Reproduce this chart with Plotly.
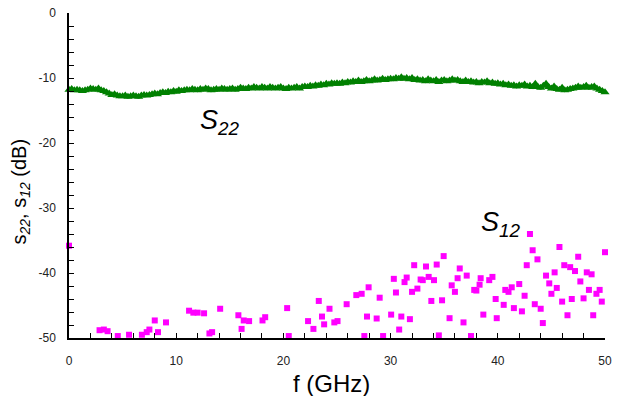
import plotly.graph_objects as go

# S22 (dB) sampled every 0.25 GHz from 0 to 50 GHz
s22_freq_step = 0.25
s22_db = [
    -11.8, -11.7, -11.9, -11.8, -11.9, -12.0, -11.9, -11.8, -11.6, -11.7, -11.8, -11.6, -11.9, -12.0, -12.2, -12.4, -12.6, -12.5, -12.7, -12.8,
    -12.8, -12.7, -12.9, -12.8, -12.7, -12.8, -12.9, -12.7, -12.6, -12.7, -12.6, -12.5, -12.4, -12.5, -12.3, -12.2, -12.3, -12.1, -12.2, -12.0,
    -12.1, -11.9, -12.0, -11.9, -11.8, -11.9, -11.7, -11.8, -11.9, -11.7, -11.8, -11.6, -11.7, -11.9, -11.8, -11.7, -11.8, -11.6, -11.7, -11.8,
    -11.7, -11.6, -11.8, -11.7, -11.5, -11.6, -11.7, -11.5, -11.6, -11.4, -11.5, -11.6, -11.4, -11.5, -11.6, -11.4, -11.5, -11.6, -11.5, -11.4,
    -11.6, -11.7, -11.5, -11.6, -11.5, -11.4, -11.6, -11.4, -11.3, -11.4, -11.2, -11.3, -11.1, -11.2, -11.0, -11.1, -10.9, -11.0, -10.8, -10.9,
    -10.8, -10.9, -10.7, -10.8, -10.6, -10.7, -10.5, -10.6, -10.4, -10.6, -10.5, -10.3, -10.5, -10.4, -10.2, -10.4, -10.3, -10.1, -10.3, -10.2,
    -10.1, -10.2, -10.0, -10.1, -9.9, -10.1, -10.0, -10.2, -10.0, -10.3, -10.2, -10.4, -10.3, -10.5, -10.2, -10.4, -10.5, -10.3, -10.6, -10.4,
    -10.3, -10.5, -10.4, -10.2, -10.4, -10.3, -10.5, -10.6, -10.4, -10.6, -10.5, -10.7, -10.6, -10.8, -10.6, -10.7, -10.5, -10.8, -10.7, -10.9,
    -10.8, -11.0, -10.9, -11.1, -11.0, -11.2, -11.1, -11.3, -11.1, -11.2, -11.0, -11.3, -11.2, -11.4, -10.9, -11.4, -11.5, -11.2, -10.9, -11.4,
    -11.6, -11.3, -11.7, -11.8, -11.5, -11.9, -11.8, -11.7, -11.6, -11.5, -11.3, -11.5, -11.4, -11.2, -11.5, -11.4, -11.3, -11.6, -11.8, -12.0,
    -12.2,
]
s22_freq = [i * s22_freq_step for i in range(len(s22_db))]

# S12 scatter points (GHz, dB)
s12_freq = [
    0.0,
    2.85, 3.25, 3.6, 4.55, 5.6, 6.8, 7.25, 7.5, 8.0, 8.3, 9.05,
    11.2, 11.6, 12.0, 12.6, 13.1, 13.35, 14.1,
    15.8, 16.1, 16.3, 16.8, 18.05, 18.3, 20.35, 20.5,
    22.3, 22.8, 23.3, 23.6, 23.8, 24.3, 24.75, 25.05, 25.9,
    26.8, 27.3, 27.55, 27.8, 27.95, 28.7, 28.98, 29.3,
    30.05, 30.3, 30.5, 30.8, 31.0, 31.3, 31.5, 31.8, 32.0, 32.2, 32.5, 32.8, 33.0, 33.3, 33.55, 33.8, 34.05, 34.3, 34.5, 34.8, 34.95,
    35.5, 35.7, 36.0, 36.25, 36.45, 36.8, 37.1, 37.5, 37.8, 38.0, 38.3, 38.4, 38.65,
    39.2, 39.5, 39.8, 39.9, 40.55, 40.7, 41.0, 41.3, 41.5, 42.0, 42.25, 42.5, 42.7, 43.0, 43.25, 43.45, 43.7, 44.0, 44.2,
    44.5, 44.8, 45.0, 45.3, 45.5, 45.75, 46.0, 46.2, 46.5, 46.75, 46.9, 47.2, 47.5, 47.7, 48.0, 48.3, 48.5, 48.75, 48.9,
    49.2, 49.5, 49.7, 50.0,
]
s12_db = [
    -35.8,
    -48.8, -48.7, -48.95, -49.7, -49.5, -49.5, -49.1, -48.7, -47.3, -49.1, -47.6,
    -45.8, -46.1, -46.1, -46.2, -49.3, -49.1, -45.5,
    -46.5, -48.6, -47.3, -47.4, -47.3, -46.8, -45.4, -49.7,
    -47.4, -48.6, -44.3, -46.7, -47.9, -45.5, -47.6, -47.4, -44.8,
    -43.4, -43.2, -49.7, -46.7, -42.2, -47.0, -43.8, -49.7,
    -46.4, -40.9, -43.0, -48.7, -46.7, -41.4, -40.7, -47.1, -42.9, -38.8, -42.4, -41.0, -41.1, -39.0, -40.6, -44.3, -41.1, -38.7, -49.6, -44.2, -37.4,
    -46.95, -41.9, -42.9, -40.8, -39.3, -47.6, -40.4, -49.7, -42.6, -42.7, -41.8, -40.8, -46.4,
    -41.1, -40.6, -44.0, -46.95, -44.9, -42.6, -42.9, -42.2, -45.4, -41.7, -45.9, -43.5, -38.8, -34.0, -36.5, -44.8, -37.9, -45.5, -47.7,
    -40.4, -41.6, -43.2, -39.9, -42.3, -36.0, -44.4, -38.8, -46.5, -39.1, -44.0, -39.7, -37.5, -41.3, -43.9, -39.9, -42.6, -40.2, -46.5,
    -43.2, -42.6, -44.4, -36.8,
]

x_ticks = [0, 10, 20, 30, 40, 50]
y_ticks = [-50, -40, -30, -20, -10, 0]

FONT = "Liberation Sans, Arial, sans-serif"

fig = go.Figure()
fig.add_trace(go.Scatter(
    x=s22_freq, y=s22_db, mode="lines+markers",
    line=dict(color="#008000", width=3.5),
    marker=dict(symbol="triangle-up", size=8, color="#008000"),
    cliponaxis=False, showlegend=False, hoverinfo="skip",
))
fig.add_trace(go.Scatter(
    x=s12_freq, y=s12_db, mode="markers",
    marker=dict(symbol="square", size=6, color="#ff00ff"),
    cliponaxis=False, showlegend=False, hoverinfo="skip",
))

axis_common = dict(
    showline=True, linecolor="black", linewidth=1.5,
    showgrid=False, zeroline=False, mirror=False,
    ticks="inside", ticklen=5, tickwidth=1, tickcolor="black",
    tickfont=dict(family=FONT, size=12, color="#222"),
)
fig.update_xaxes(
    range=[0, 50], tickvals=x_ticks, ticktext=[str(v) for v in x_ticks],
    minor=dict(ticks="inside", dtick=2, ticklen=5, tickcolor="black"),
    ticklabelstandoff=11, **axis_common,
)
fig.update_yaxes(
    range=[-50, 0], tickvals=y_ticks, ticktext=[str(v) for v in y_ticks],
    minor=dict(ticks="inside", dtick=2, ticklen=5, tickcolor="black"),
    ticklabelstandoff=9, **axis_common,
)

fig.update_layout(
    width=618, height=396,
    margin=dict(l=69, r=6.5, t=13.3, b=58.3),
    paper_bgcolor="white", plot_bgcolor="white",
    font=dict(family=FONT, color="black"),
    annotations=[
        dict(text="f (GHz)", xref="paper", yref="paper", x=0.49, y=-0.1396,
             showarrow=False, font=dict(size=24, family=FONT, color="black"),
             xanchor="center", yanchor="middle"),
        dict(text="s<sub><i>22</i></sub>, s<sub><i>12</i></sub> (dB)", xref="paper", yref="paper",
             x=-0.09, y=0.45, textangle=-90, showarrow=False,
             font=dict(size=20, family=FONT, color="black"),
             xanchor="center", yanchor="middle"),
        dict(text="<i>S</i><sub><i>22</i></sub>", xref="x", yref="y", x=12.0, y=-16.7,
             showarrow=False, font=dict(size=27, family=FONT, color="black"),
             xanchor="left", yanchor="middle"),
        dict(text="<i>S</i><sub><i>12</i></sub>", xref="x", yref="y", x=38.2, y=-32.4,
             showarrow=False, font=dict(size=27, family=FONT, color="black"),
             xanchor="left", yanchor="middle"),
    ],
)

fig.write_html("out.html")
